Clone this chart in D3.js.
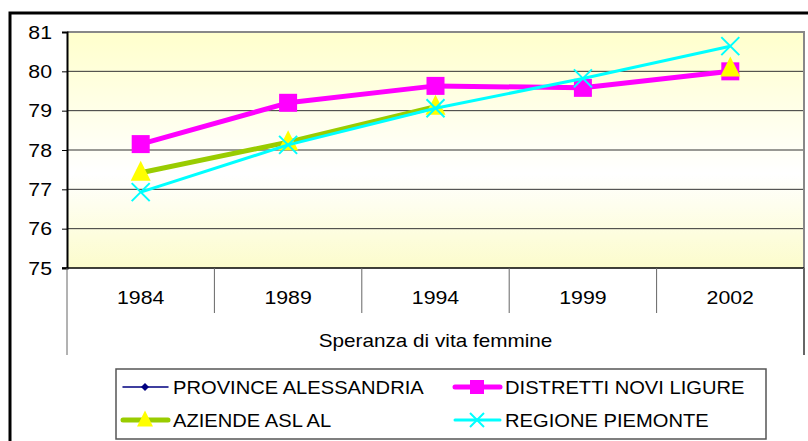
<!DOCTYPE html>
<html>
<head>
<meta charset="utf-8">
<script src="https://cdn.jsdelivr.net/npm/d3@7"></script>
<style>
  body { margin: 0; background: #fff; }
  svg { display: block; font-family: "Liberation Sans", Arial, sans-serif; }
</style>
</head>
<body>
<svg id="chart" width="808" height="441"></svg>
<script>
// data
const years = ['1984', '1989', '1994', '1999', '2002'];
const yTicks = [75, 76, 77, 78, 79, 80, 81];
const provinceAlessandria = [77.42, 78.2, 79.1, null, 80.07];
const distrettiNovi = [78.15, 79.2, 79.63, 79.58, 80.0];
const aziendeAsl = [77.42, 78.2, 79.1, null, 80.07];
const regionePiemonte = [76.93, 78.13, 79.06, 79.82, 80.64];
const xTitle = 'Speranza di vita femmine';

const series = [
  { name: 'PROVINCE ALESSANDRIA', values: provinceAlessandria, color: '#000080', width: 1.5, marker: 'diamond', mcolor: '#000080' },
  { name: 'DISTRETTI NOVI LIGURE', values: distrettiNovi, color: '#ff00ff', width: 5, marker: 'square', mcolor: '#ff00ff' },
  { name: 'AZIENDE ASL AL', values: aziendeAsl, color: '#99cc00', width: 5, marker: 'triangle', mcolor: '#ffff00' },
  { name: 'REGIONE PIEMONTE', values: regionePiemonte, color: '#00ffff', width: 3, marker: 'x', mcolor: '#00ffff' }
];

const svg = d3.select('#chart');
const plot = { left: 67, top: 32, right: 804, bottom: 268 };
const FS = 19;

// the original font is a bit wider than Liberation Sans: stretch a little
function widen(sel, k = 1.12) {
  sel.each(function () {
    const w = this.getComputedTextLength();
    d3.select(this).attr('textLength', w * k).attr('lengthAdjust', 'spacingAndGlyphs');
  });
}

// outer frame
svg.append('rect')
  .attr('x', 10).attr('y', 13).attr('width', 820).attr('height', 450)
  .attr('fill', 'none').attr('stroke', '#000').attr('stroke-width', 3);

const defs = svg.append('defs');
const grad = defs.append('linearGradient').attr('id', 'bg')
  .attr('x1', 0).attr('y1', 0).attr('x2', 0).attr('y2', 1);
grad.append('stop').attr('offset', '0%').attr('stop-color', '#ffffcc');
grad.append('stop').attr('offset', '60%').attr('stop-color', '#ffffff');
grad.append('stop').attr('offset', '100%').attr('stop-color', '#fcfccc');

const x = d3.scaleBand().domain(years).range([plot.left, plot.right]);
const y = d3.scaleLinear().domain([75, 81]).range([plot.bottom, plot.top]);

svg.append('rect')
  .attr('x', plot.left).attr('y', plot.top)
  .attr('width', plot.right - plot.left).attr('height', plot.bottom - plot.top)
  .attr('fill', 'url(#bg)');

// gridlines
svg.append('g').selectAll('line')
  .data(yTicks.filter(d => d > 75 && d < 81))
  .enter().append('line')
  .attr('x1', plot.left).attr('x2', plot.right)
  .attr('y1', d => y(d)).attr('y2', d => y(d))
  .attr('stroke', '#333').attr('stroke-width', 1);

// plot border top/right
svg.append('path')
  .attr('d', `M${plot.left},${plot.top}H${plot.right}V${plot.bottom}`)
  .attr('fill', 'none').attr('stroke', '#888').attr('stroke-width', 2);

// y axis
const yAxis = svg.append('g')
  .attr('transform', `translate(${plot.left},0)`)
  .call(d3.axisLeft(y).tickValues(yTicks).tickSize(5).tickPadding(10).tickFormat(d3.format('d')));
yAxis.select('.domain').attr('stroke', '#000').attr('stroke-width', 2);
yAxis.selectAll('.tick line').attr('stroke', '#000');
yAxis.selectAll('text').attr('font-size', FS).attr('fill', '#000').attr('font-family', null)
  .call(widen);

// category axis (table-like)
svg.append('line')
  .attr('x1', plot.left - 5).attr('x2', plot.right)
  .attr('y1', plot.bottom).attr('y2', plot.bottom)
  .attr('stroke', '#000').attr('stroke-width', 1.5);
const edges = years.slice(1).map(d => x(d));
svg.append('g').selectAll('line')
  .data(edges).enter().append('line')
  .attr('x1', d => d).attr('x2', d => d)
  .attr('y1', plot.bottom).attr('y2', 313)
  .attr('stroke', '#666').attr('stroke-width', 1);
svg.append('line')
  .attr('x1', plot.left).attr('x2', plot.left)
  .attr('y1', plot.bottom).attr('y2', 355)
  .attr('stroke', '#666').attr('stroke-width', 1);
svg.append('line')
  .attr('x1', plot.right).attr('x2', plot.right)
  .attr('y1', plot.bottom).attr('y2', 355)
  .attr('stroke', '#666').attr('stroke-width', 2);

svg.append('g').selectAll('text')
  .data(years).enter().append('text')
  .attr('x', d => x(d) + x.bandwidth() / 2)
  .attr('y', 304)
  .attr('text-anchor', 'middle')
  .attr('font-size', FS)
  .text(d => d)
  .call(widen);

svg.append('text')
  .attr('x', (plot.left + plot.right) / 2)
  .attr('y', 347)
  .attr('text-anchor', 'middle')
  .attr('font-size', FS)
  .text(xTitle)
  .call(widen, 1.09);

// markers
function drawMarker(g, type, cx, cy, color, size) {
  if (type === 'diamond') {
    g.append('path').attr('d', `M${cx},${cy - size}L${cx + size},${cy}L${cx},${cy + size}L${cx - size},${cy}Z`)
      .attr('fill', color);
  } else if (type === 'square') {
    g.append('rect').attr('x', cx - size).attr('y', cy - size)
      .attr('width', size * 2).attr('height', size * 2).attr('fill', color);
  } else if (type === 'triangle') {
    g.append('path').attr('d', `M${cx},${cy - size * 1.2}L${cx + size},${cy + size * 0.8}L${cx - size},${cy + size * 0.8}Z`)
      .attr('fill', color);
  } else if (type === 'x') {
    g.append('path').attr('d', `M${cx - size},${cy - size}L${cx + size},${cy + size}M${cx - size},${cy + size}L${cx + size},${cy - size}`)
      .attr('stroke', color).attr('stroke-width', 2).attr('fill', 'none');
  }
}
const markerSize = { diamond: 4, square: 9, triangle: 10, x: 9 };

const cx = (d, i) => x(years[i]) + x.bandwidth() / 2;
const line = d3.line()
  .defined(d => d != null)
  .x(cx)
  .y(d => y(d));

series.forEach(s => {
  const g = svg.append('g');
  g.append('path')
    .datum(s.values)
    .attr('d', line)
    .attr('fill', 'none')
    .attr('stroke', s.color)
    .attr('stroke-width', s.width)
    .attr('stroke-linejoin', 'round');
  s.values.forEach((v, i) => {
    if (v == null) return;
    drawMarker(g, s.marker, cx(v, i), y(v), s.mcolor, markerSize[s.marker]);
  });
});

// legend
const legend = svg.append('g');
legend.append('rect')
  .attr('x', 116).attr('y', 369).attr('width', 650).attr('height', 70)
  .attr('fill', '#fff').attr('stroke', '#555').attr('stroke-width', 1.5);
const legPos = [
  { lx: 123, ly: 387 }, { lx: 455, ly: 387 },
  { lx: 123, ly: 420 }, { lx: 455, ly: 420 }
];
const legSize = { diamond: 4, square: 7, triangle: 8, x: 7 };
series.forEach((s, i) => {
  const p = legPos[i];
  const g = legend.append('g');
  g.append('line')
    .attr('x1', p.lx).attr('x2', p.lx + 45)
    .attr('y1', p.ly).attr('y2', p.ly)
    .attr('stroke', s.color).attr('stroke-width', s.width)
    .attr('stroke-linecap', 'round');
  drawMarker(g, s.marker, p.lx + 22, p.ly, s.mcolor, legSize[s.marker]);
  g.append('text')
    .attr('x', p.lx + 50).attr('y', p.ly + 7)
    .attr('font-size', FS)
    .text(s.name)
    .call(widen, 1.06);
});
</script>
</body>
</html>
